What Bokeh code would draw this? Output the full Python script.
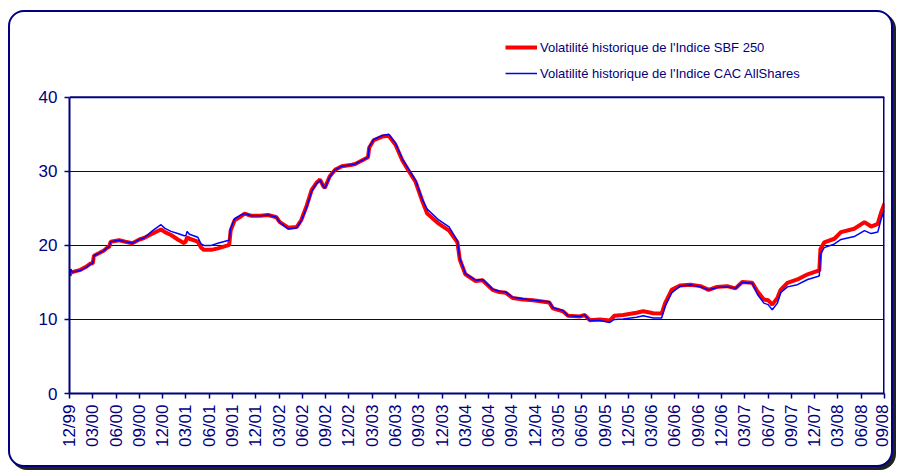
import math
from bokeh.plotting import figure
from bokeh.models import Range1d, FixedTicker, Legend, LegendItem
from bokeh.embed import file_html
from bokeh.resources import INLINE

# ---- data (x in quarters since 12/99) ----
tick_labels = ["12/99", "03/00", "06/00", "09/00", "12/00", "03/01", "06/01", "09/01",
               "12/01", "03/02", "06/02", "09/02", "12/02", "03/03", "06/03", "09/03",
               "12/03", "03/04", "06/04", "09/04", "12/04", "03/05", "06/05", "09/05",
               "12/05", "03/06", "06/06", "09/06", "12/06", "03/07", "06/07", "09/07",
               "12/07", "03/08", "06/08", "09/08"]

quarter = [0.00, 0.06, 0.12, 0.47, 0.75, 0.90, 1.00, 1.05, 1.30, 1.48, 1.62, 1.70, 1.77,
           2.13, 2.40, 2.70, 3.00, 3.20, 3.57, 3.93, 4.10, 4.36, 4.65, 4.93, 5.00, 5.05,
           5.15, 5.51, 5.65, 5.77, 6.09, 6.37, 6.80, 6.86, 6.92, 7.09, 7.30, 7.52, 7.81,
           8.20, 8.53, 8.89, 9.03, 9.40, 9.76, 9.95, 10.19, 10.40, 10.62, 10.76, 10.90,
           10.97, 11.17, 11.40, 11.70, 12.13, 12.27, 12.82, 12.87, 13.06, 13.43, 13.71,
           14.00, 14.29, 14.58, 14.86, 15.15, 15.36, 15.87, 16.30, 16.66, 16.76, 17.00,
           17.44, 17.74, 18.17, 18.46, 18.74, 19.03, 19.47, 19.90, 20.60, 20.76, 21.19,
           21.41, 21.91, 22.13, 22.34, 22.78, 23.20, 23.40, 23.78, 24.35, 24.64, 25.07,
           25.43, 25.58, 25.86, 26.22, 26.66, 27.10, 27.45, 27.81, 28.24, 28.60, 28.89,
           29.32, 29.54, 29.82, 30.00, 30.18, 30.40, 30.54, 30.83, 31.26, 31.70, 32.13,
           32.20, 32.25, 32.41, 32.85, 33.13, 33.70, 34.14, 34.43, 34.71, 34.86, 35.00]

sbf250 = [15.9, 16.3, 16.4, 16.7, 17.2, 17.55, 17.6, 18.6, 19.0, 19.3, 19.7, 19.8, 20.5,
          20.7, 20.5, 20.3, 20.8, 21.0, 21.6, 22.15, 21.8, 21.4, 20.8, 20.3, 20.6, 21.1,
          20.9, 20.5, 19.7, 19.4, 19.4, 19.6, 20.0, 20.1, 22.0, 23.4, 23.8, 24.3, 24.0,
          24.0, 24.1, 23.8, 23.15, 22.4, 22.5, 23.4, 25.4, 27.5, 28.5, 28.9, 28.0,
          27.8, 29.3, 30.2, 30.7, 30.9, 31.0, 31.9, 33.2, 34.2, 34.7, 34.8,
          33.6, 31.5, 30.0, 28.6, 26.0, 24.3, 22.9, 22.0, 20.4, 18.1, 16.1,
          15.2, 15.3, 14.0, 13.7, 13.6, 12.9, 12.7, 12.6, 12.3, 11.5, 11.1,
          10.5, 10.4, 10.6, 9.9, 10.0, 9.85, 10.5, 10.6, 10.9, 11.1, 10.85,
          10.8, 12.2, 14.0, 14.6, 14.7, 14.5, 14.0, 14.4, 14.5, 14.2, 15.05,
          14.95, 13.8, 12.7, 12.6, 12.0, 12.9, 14.0, 14.95, 15.4, 16.1, 16.55,
          16.6, 19.5, 20.4, 20.9, 21.8, 22.25, 23.15, 22.55, 22.9, 24.5, 25.65]

cac_allshares = [15.9, 16.8, 16.4, 16.6, 17.1, 17.5, 17.6, 18.6, 19.0, 19.3, 19.7, 19.8, 20.5,
                 20.7, 20.5, 20.3, 20.8, 21.0, 22.0, 22.8, 22.3, 21.9, 21.6, 21.3, 21.3, 21.9,
                 21.5, 21.1, 20.2, 20.0, 20.0, 20.3, 20.65, 20.7, 22.3, 23.6, 24.0, 24.3, 24.0,
                 24.0, 24.1, 23.8, 23.1, 22.2, 22.4, 23.3, 25.2, 27.3, 28.4, 28.8, 28.0,
                 27.7, 29.2, 30.2, 30.7, 30.9, 31.0, 31.9, 33.3, 34.3, 34.85, 35.0,
                 33.8, 31.7, 30.2, 28.8, 26.2, 24.9, 23.4, 22.5, 20.6, 18.3, 16.2,
                 15.3, 15.4, 14.1, 13.8, 13.7, 13.0, 12.8, 12.6, 12.4, 11.6, 11.2,
                 10.5, 10.4, 10.6, 9.85, 9.85, 9.6, 10.0, 10.05, 10.3, 10.5, 10.2,
                 10.2, 11.8, 13.6, 14.5, 14.7, 14.4, 14.0, 14.3, 14.4, 14.2, 15.0,
                 14.9, 13.4, 12.2, 12.0, 11.3, 12.2, 13.6, 14.4, 14.7, 15.4, 15.8,
                 15.9, 18.8, 19.7, 20.2, 20.8, 21.2, 22.0, 21.6, 21.8, 23.6, 24.75]

y_ticks = [0, 10, 20, 30, 40]
series_names = ["Volatilité historique de l'Indice SBF 250",
                "Volatilité historique de l'Indice CAC AllShares"]

NAVY = "#000080"
FONT = "Liberation Sans"

# frame extends above the plot box so the legend (inside the frame) is not clipped
PLOT_BOX_H = 293      # pixel height of the 0..40 box
FRAME_H = 369         # pixel height of the whole frame
x_end = len(tick_labels) - 1
y_max = y_ticks[-1]
y_top = y_max * FRAME_H / PLOT_BOX_H

p = figure(width=885, height=457, output_backend="svg", toolbar_location=None,
           x_range=Range1d(0, x_end), y_range=Range1d(0, y_top),
           min_border_left=59, min_border_right=11, min_border_top=8, min_border_bottom=76)

p.styles = {"border": "2px solid " + NAVY, "border-radius": "16px",
            "box-shadow": "3px 3px 0px #222", "margin-top": "10px",
            "margin-left": "8px", "background": "white"}
p.border_fill_alpha = 0
p.background_fill_color = "white"
p.outline_line_color = None

p.xgrid.visible = False
p.ygrid.grid_line_color = NAVY
p.ygrid.grid_line_width = 1

r1 = p.line(quarter, sbf250, line_color="#FF0000", line_width=4)
r2 = p.line(quarter, cac_allshares, line_color="#0000FF", line_width=1.5)

# plot-box border (top and right)
p.segment(x0=[0], y0=[y_max], x1=[x_end], y1=[y_max], line_color=NAVY, line_width=2)
p.segment(x0=[x_end], y0=[0], x1=[x_end], y1=[y_max], line_color=NAVY, line_width=3)

p.xaxis.ticker = FixedTicker(ticks=list(range(len(tick_labels))))
p.xaxis.major_label_overrides = {i: lab for i, lab in enumerate(tick_labels)}
p.xaxis.major_label_orientation = math.pi / 2
p.yaxis.ticker = FixedTicker(ticks=y_ticks)
p.yaxis.bounds = (0, y_max)
p.ygrid.ticker = FixedTicker(ticks=y_ticks)

for ax in (p.xaxis[0], p.yaxis[0]):
    ax.axis_line_color = NAVY
    ax.axis_line_width = 2
    ax.major_tick_line_color = NAVY
    ax.major_tick_line_width = 1.5
    ax.major_tick_out = 5
    ax.major_tick_in = 0
    ax.minor_tick_line_color = None
    ax.major_label_text_font = FONT
    ax.major_label_text_font_size = "17px"
    ax.major_label_text_color = NAVY
p.xaxis.major_label_standoff = 6
p.yaxis.major_label_standoff = 7

legend = Legend(items=[LegendItem(label=series_names[0], renderers=[r1]),
                       LegendItem(label=series_names[1], renderers=[r2])],
                location=(436, 310))
legend.margin = 0
legend.padding = 0
legend.border_line_alpha = 0
legend.background_fill_alpha = 0
legend.glyph_width = 32
legend.glyph_height = 20
legend.label_height = 20
legend.label_standoff = 3
legend.spacing = 6
legend.label_text_font = FONT
legend.label_text_font_size = "13px"
legend.label_text_color = NAVY
p.add_layout(legend, "center")

open("out.html", "w").write(file_html(p, INLINE))
